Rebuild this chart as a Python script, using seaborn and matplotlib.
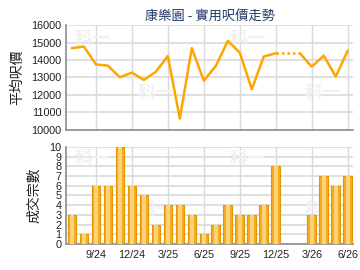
import numpy as np
import pandas as pd
import matplotlib
matplotlib.use("Agg")
import matplotlib.pyplot as plt
import seaborn as sns

months = ["7/24", "8/24", "9/24", "10/24", "11/24", "12/24", "1/25", "2/25", "3/25",
          "4/25", "5/25", "6/25", "7/25", "8/25", "9/25", "10/25", "11/25", "12/25",
          "1/26", "2/26", "3/26", "4/26", "5/26", "6/26"]
price = [14680, 14770, 13750, 13680, 13010, 13280, 12860, 13330, 14230,
         10650, 14680, 12820, 13660, 15100, 14420, 12330, 14200, 14390,
         np.nan, 14390, 13620, 14250, 13050, 14540]
count = [3, 1, 6, 6, 10, 6, 5, 2, 4, 4, 3, 1, 2, 4, 3, 3, 4, 8,
         0, 0, 3, 7, 6, 7]
tick_labels = ["9/24", "12/24", "3/25", "6/25", "9/25", "12/25", "3/26", "6/26"]
price_ticks = [10000, 11000, 12000, 13000, 14000, 15000, 16000]
count_ticks = list(range(0, 11))
title = "康樂園 - 實用呎價走勢"
ylab_top = "平均呎價"
ylab_bottom = "成交宗數"

sns.set_style("white")
plt.rcParams['font.family'] = ['Liberation Sans', 'Noto Sans CJK TC', 'DejaVu Sans']
cjk = ['Noto Sans CJK TC', 'DejaVu Sans']

df = pd.DataFrame({"month": months, "price": price, "count": count})
df["x"] = np.arange(len(df))

fig = plt.figure(figsize=(3.6, 2.7), dpi=100)
ax1 = fig.add_axes([0.183, 0.519, 0.798, 0.388])
ax2 = fig.add_axes([0.183, 0.096, 0.798, 0.360])

grid_c = "#dadada"
line_c = "#ffa500"
tick_pos = [i for i, m in enumerate(months) if m in tick_labels]

for ax in (ax1, ax2):
    ax.set_xlim(-0.5, 23.45)
    for s in ("top", "right"):
        ax.spines[s].set_visible(False)
    for s in ("left", "bottom"):
        ax.spines[s].set_color("#8c8c8c")
        ax.spines[s].set_linewidth(1.2)
    ax.set_xticks(tick_pos)
    for t in tick_pos:
        ax.axvline(t, color=grid_c, lw=1, zorder=0)
    ax.tick_params(axis="x", length=3, color="#8c8c8c", pad=1, labelsize=7.8, colors="#222222")
    ax.tick_params(axis="y", length=0, pad=3, labelsize=7.8, colors="#222222")
    ax.set_facecolor("white")

# watermark
for ax in (ax1, ax2):
    for (px, py) in [(0.03, 0.82), (0.57, 0.82), (0.25, 0.3), (0.83, 0.3)]:
        ax.text(px, py, "科一", transform=ax.transAxes, fontsize=13, color="#f1f1f1",
                fontweight="bold", family=cjk, zorder=0.5)

# top: price line
ax1.set_ylim(10000, 16000)
ax1.set_yticks(price_ticks)
for v in price_ticks:
    ax1.axhline(v, color=grid_c, lw=1.2, zorder=0)
valid = df.dropna(subset=["price"])
seg1 = valid[valid["x"] <= 17]
seg2 = valid[valid["x"] >= 19]
sns.lineplot(data=seg1, x="x", y="price", ax=ax1, color=line_c, lw=1.8, zorder=3)
sns.lineplot(data=seg2, x="x", y="price", ax=ax1, color=line_c, lw=1.8, zorder=3)
gap = valid[(valid["x"] >= 17) & (valid["x"] <= 19)]
ax1.plot(gap["x"], gap["price"], color=line_c, lw=1.8, ls=(0, (1, 1.2)), zorder=3)
ax1.set_xticklabels([])
ax1.set_xlabel("")
ax1.set_ylabel(ylab_top, family=cjk, fontsize=10, labelpad=5, color="#222222")
ax1.set_title(title, family=cjk, fontsize=9.5, color="#1f3b66", pad=4)

# bottom: bars
ax2.set_ylim(0, 10)
ax2.set_yticks(count_ticks)
for v in count_ticks:
    ax2.axhline(v, color=grid_c, lw=1.2, zorder=0)
sns.barplot(data=df, x="x", y="count", ax=ax2, color="#f5ad22", width=0.72,
            edgecolor="#e69500", linewidth=0.8, saturation=1, zorder=3, native_scale=True)
sns.barplot(data=df, x="x", y="count", ax=ax2, color="#fcd27a", width=0.3,
            linewidth=0, saturation=1, zorder=4, native_scale=True)
ax2.set_xlim(-0.5, 23.45)
ax2.set_xticks(tick_pos)
ax2.set_xticklabels(tick_labels)
ax2.set_xlabel("")
ax2.set_ylabel(ylab_bottom, family=cjk, fontsize=10, labelpad=6, color="#222222")
ax2.set_yticks(count_ticks)
ax2.set_yticklabels([str(v) for v in count_ticks])

fig.savefig("out.png", dpi=100, facecolor="white")
